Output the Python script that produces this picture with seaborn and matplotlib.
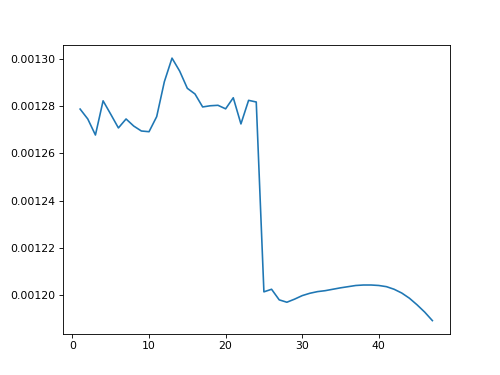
import matplotlib
matplotlib.use("Agg")
import matplotlib.pyplot as plt
import seaborn as sns
import numpy as np
import pandas as pd

steps = list(range(1, 48))
values = [
    0.0012788, 0.0012746, 0.0012678, 0.0012823, 0.0012766, 0.0012708, 0.0012746,
    0.0012716, 0.0012695, 0.0012692, 0.0012756, 0.0012904, 0.0013004, 0.0012949,
    0.0012876, 0.0012852, 0.0012797, 0.0012802, 0.0012804, 0.0012789, 0.0012836,
    0.0012725, 0.0012825, 0.0012818,
    0.0012013, 0.0012024, 0.0011979, 0.0011969, 0.0011982, 0.0011997, 0.0012007,
    0.0012014, 0.0012018, 0.0012024, 0.0012030, 0.0012035, 0.0012040, 0.0012042,
    0.0012042, 0.0012040, 0.0012035, 0.0012024, 0.0012008, 0.0011986, 0.0011958,
    0.0011927, 0.0011891,
]

df = pd.DataFrame({"step": steps, "value": values})

fig, ax = plt.subplots(figsize=(6.4, 4.8), dpi=78.125)
sns.lineplot(data=df, x="step", y="value", ax=ax, color="#1f77b4", linewidth=1.5)
ax.set_xlabel("")
ax.set_ylabel("")
fig.savefig("out.png", dpi=78.125)
